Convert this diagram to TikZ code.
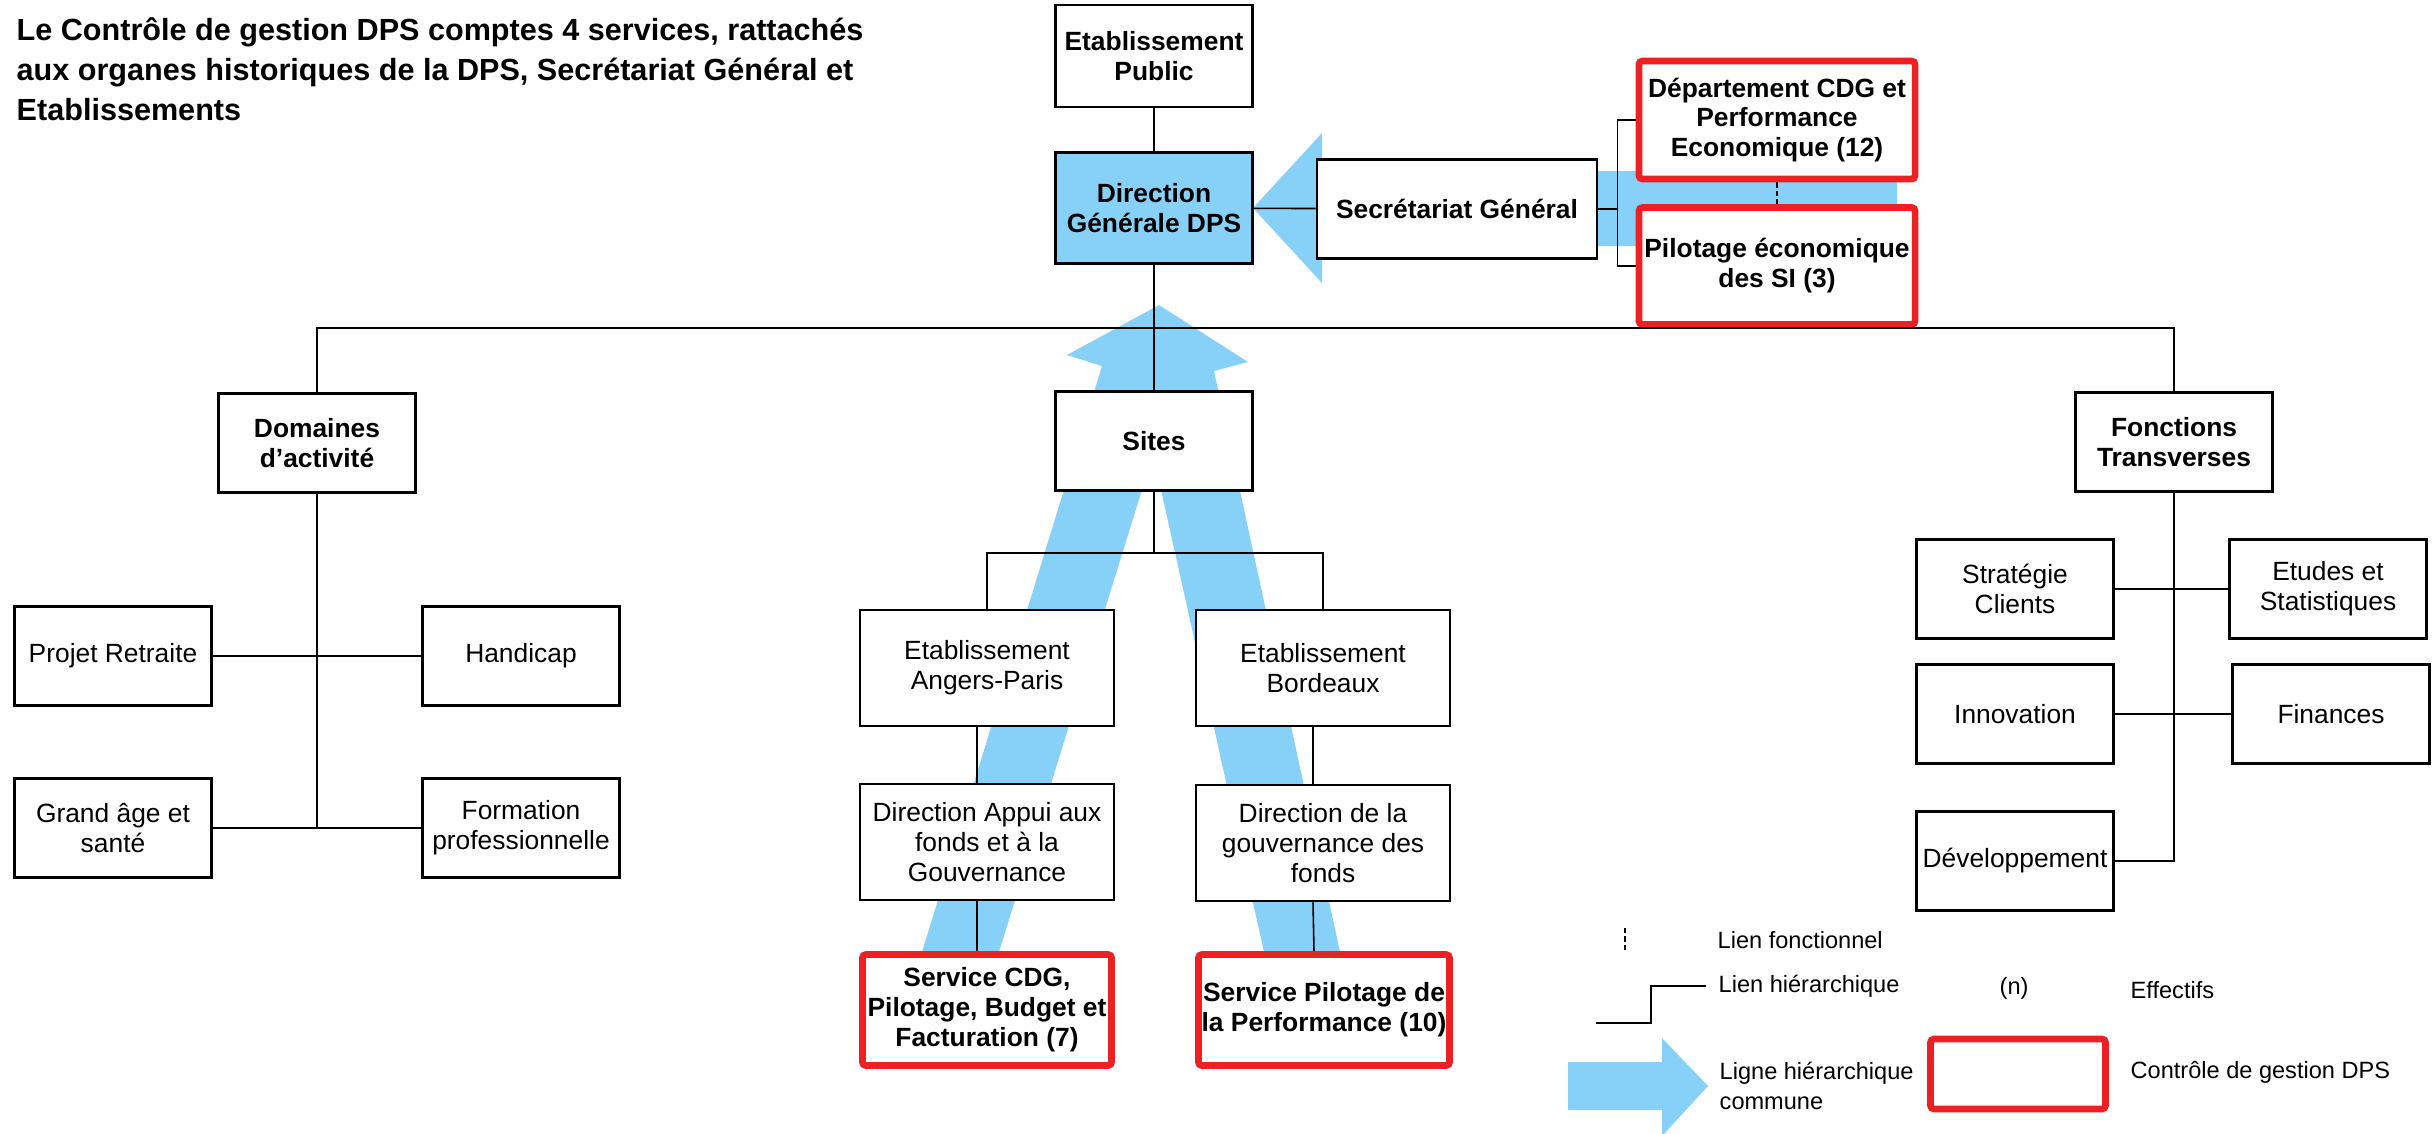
\documentclass[tikz,border=0pt]{standalone}
\usepackage{fontspec}
\setmainfont{Liberation Sans}
\usetikzlibrary{positioning,calc}

\definecolor{dpsblue}{RGB}{135,209,248}
\definecolor{dpsred}{RGB}{237,32,36}

\pgfdeclarelayer{bg}
\pgfsetlayers{bg,main}

\begin{document}
\begin{tikzpicture}[
  x=0.01cm, y=-0.01cm,
  box/.style={draw, line width=0.7pt, fill=white, align=center, minimum width=1.97cm, minimum height=0.99cm, inner sep=1pt, font=\fontsize{7.5}{8.5}\selectfont},
  hbox/.style={box, font=\bfseries\fontsize{7.5}{8.5}\selectfont},
  wbox/.style={box, minimum width=2.54cm, minimum height=1.16cm},
  cdg/.style={hbox, draw=dpsred, line width=1.9pt, rounded corners=1pt, inner sep=0.5pt},
  lnk/.style={line width=0.45pt},
  fct/.style={line width=0.4pt, dash pattern=on 1.5pt off 0.9pt},
  leg/.style={anchor=west, inner sep=0pt, align=left, font=\fontsize{6.7}{8.5}\selectfont}
]
\useasboundingbox (0,0) rectangle (2436,1133);

\node[anchor=north west, inner sep=0pt, align=left, font=\bfseries\fontsize{8.7}{11.4}\selectfont] (title) at (16,17)
  {Le Contrôle de gestion DPS comptes 4 services, rattachés\\aux organes historiques de la DPS, Secrétariat Général et\\Etablissements};

\node[hbox, minimum height=1.02cm] (ep) at (1154,56) {Etablissement\\Public};
\node[hbox, fill=dpsblue, minimum height=1.11cm] (dg) at (1154,208) {Direction\\Générale DPS};
\node[hbox, minimum width=2.8cm] (sg) at (1457,209) {Secrétariat Général};
\node[cdg, minimum width=2.76cm, minimum height=1.18cm] (dcdg) at (1777,120) {Département CDG et\\Performance\\Economique (12)};
\node[cdg, minimum width=2.76cm, minimum height=1.17cm] (psi) at (1777,266) {Pilotage économique\\des SI (3)};
\coordinate (hub) at (1154,328);

\node[hbox] (dom) at (317,443) {Domaines\\d’activité};
\node[hbox] (sites) at (1154,441) {Sites};
\node[hbox] (ft) at (2174,442) {Fonctions\\Transverses};

\node[box] (pr) at (113,656) {Projet Retraite};
\node[box] (hc) at (521,656) {Handicap};
\node[box] (ga) at (113,828) {Grand âge et\\santé};
\node[box] (fp) at (521,828) {Formation\\professionnelle};

\node[wbox] (eap) at (987,668) {Etablissement\\Angers-Paris};
\node[wbox] (ebx) at (1323,668) {Etablissement\\Bordeaux};
\node[wbox] (dafg) at (987,842) {Direction Appui aux\\fonds et à la\\Gouvernance};
\node[wbox] (dgf) at (1323,843) {Direction de la\\gouvernance des\\fonds};
\node[cdg, minimum width=2.49cm, minimum height=1.11cm] (scdg) at (987,1010) {Service CDG,\\Pilotage, Budget et\\Facturation (7)};
\node[cdg, minimum width=2.51cm, minimum height=1.11cm] (spp) at (1324,1010) {Service Pilotage de\\la Performance (10)};

\node[box] (stc) at (2015,589) {Stratégie\\Clients};
\node[box] (ets) at (2328,589) {Etudes et\\Statistiques};
\node[box] (inn) at (2015,714) {Innovation};
\node[box] (fin) at (2331,714) {Finances};
\node[box] (dev) at (2015,861) {Développement};

\begin{pgfonlayer}{bg}
\fill[dpsblue] (1253,208) -- (1322,133) -- (1322,171) -- (1897,171) -- (1897,246) -- (1322,246) -- (1322,283) -- cycle;
\fill[dpsblue] (1159,305) -- (1248,362) -- (1214,371) -- (1340,952) -- (1264,952) -- (1153,454)
  -- (999,952) -- (922,952) -- (1102,366) -- (1067,355) -- cycle;
\fill[dpsblue] (1568,1062) -- (1662,1062) -- (1662,1038) -- (1708,1086) -- (1662,1136) -- (1662,1110) -- (1568,1110) -- cycle;
\end{pgfonlayer}

\draw[lnk] (ep) -- (dg);
\draw[lnk] (dg) -- (sg);
\draw[lnk] (dg) -- (sites);
\draw[lnk] (dom) |- (hub) -| (ft);
\draw[lnk] (dcdg.west) -- ++(-18,0) coordinate (brk) |- (psi.west);
\draw[lnk] (sg.east) -- (sg.east -| brk);
\draw[fct] (dcdg) -- (psi);

\draw[lnk] (pr) -- (hc);
\draw[lnk] (ga) -- (fp);
\draw[lnk] (dom) -- (dom.south |- ga.east);

\draw[lnk] (sites.south) -- ++(0,61) coordinate (sj);
\draw[lnk] (eap.north) |- (sj) -| (ebx.north);
\draw[lnk] ([xshift=-0.1cm]eap.south) -- ([xshift=-0.1cm]dafg.north);
\draw[lnk] ([xshift=-0.1cm]dafg.south) -- ([xshift=-0.1cm]scdg.north);
\draw[lnk] ([xshift=-0.1cm]ebx.south) -- ([xshift=-0.1cm]dgf.north);
\draw[lnk] ([xshift=-0.1cm]dgf.south) -- ([xshift=-0.1cm]spp.north);

\draw[lnk] (stc) -- (ets);
\draw[lnk] (inn) -- (fin);
\draw[lnk] (ft) |- (dev);

\coordinate (lfa) at (1625,928);
\coordinate (lfb) at (1625,952);
\draw[fct] (lfa) -- (lfb);
\node[leg] (lfct) at (1717,940) {Lien fonctionnel};
\coordinate (lha) at (1596,1023);
\coordinate (lhb) at (1706,986);
\draw[lnk] (lha) -- ++(55,0) |- (lhb);
\node[leg] (lhie) at (1718,986) {Lien hiérarchique};
\node[leg] (leff) at (1999,988) {(n)};
\node[leg] (leffl) at (2130,990) {Effectifs};
\node[leg] (llig) at (1719,1086) {Ligne hiérarchique\\commune};
\node[cdg, minimum width=1.75cm, minimum height=0.7cm] (lcdg) at (2018,1074) {};
\node[leg] (lcdgl) at (2130,1072) {Contrôle de gestion DPS};
\end{tikzpicture}
\end{document}
